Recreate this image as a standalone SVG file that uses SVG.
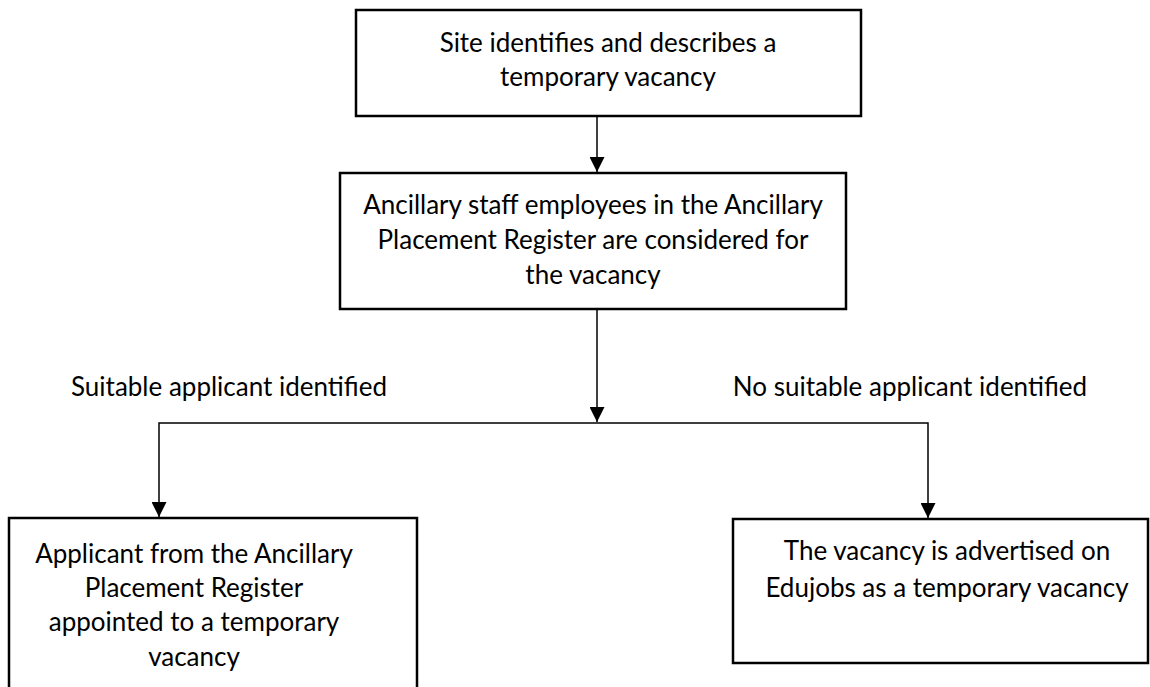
<svg xmlns="http://www.w3.org/2000/svg" width="1150" height="687" viewBox="0 0 1150 687">
<style>
.box{fill:#fff;stroke:#000;stroke-width:2.5}
.t{font-family:Lato,"Open Sans","Liberation Sans",sans-serif;font-size:26px;fill:#000;text-anchor:middle}
.c{fill:none;stroke:#000;stroke-width:1.5}
</style>
<defs>
<marker id="ah" viewBox="0 0 15 15" refX="15" refY="7.5" markerWidth="15" markerHeight="15" markerUnits="userSpaceOnUse" orient="auto-start-reverse">
<path d="M0,0 L15,7.5 L0,15 Z" fill="#000"/>
</marker>
</defs>
<rect width="1150" height="687" fill="#fff"/>
<g id="n1">
<rect class="box" x="356" y="10" width="505" height="106"/>
<text class="t" x="608" y="52">Site identifies and describes a</text>
<text class="t" x="608" y="86">temporary vacancy</text>
</g>
<g id="n2">
<rect class="box" x="340" y="173" width="506" height="136"/>
<text class="t" x="593" y="214">Ancillary staff employees in the Ancillary</text>
<text class="t" x="593" y="249">Placement Register are considered for</text>
<text class="t" x="593" y="284">the vacancy</text>
</g>
<g id="n3">
<rect class="box" x="9" y="518" width="408" height="200"/>
<text class="t" x="194" y="563">Applicant from the Ancillary</text>
<text class="t" x="194" y="597">Placement Register</text>
<text class="t" x="194" y="631">appointed to a temporary</text>
<text class="t" x="194" y="666">vacancy</text>
</g>
<g id="n4">
<rect class="box" x="733" y="519" width="415" height="144"/>
<text class="t" x="947" y="560">The vacancy is advertised on</text>
<text class="t" x="947" y="597">Edujobs as a temporary vacancy</text>
</g>
<g id="labels">
<text class="t" x="229" y="396">Suitable applicant identified</text>
<text class="t" x="910" y="396">No suitable applicant identified</text>
</g>
<g id="connectors">
<line class="c" x1="597" y1="117" x2="597" y2="172" marker-end="url(#ah)"/>
<line class="c" x1="597" y1="310" x2="597" y2="422" marker-end="url(#ah)"/>
<polyline class="c" points="159,517 159,423 928,423 928,518" marker-start="url(#ah)" marker-end="url(#ah)"/>
</g>
</svg>
